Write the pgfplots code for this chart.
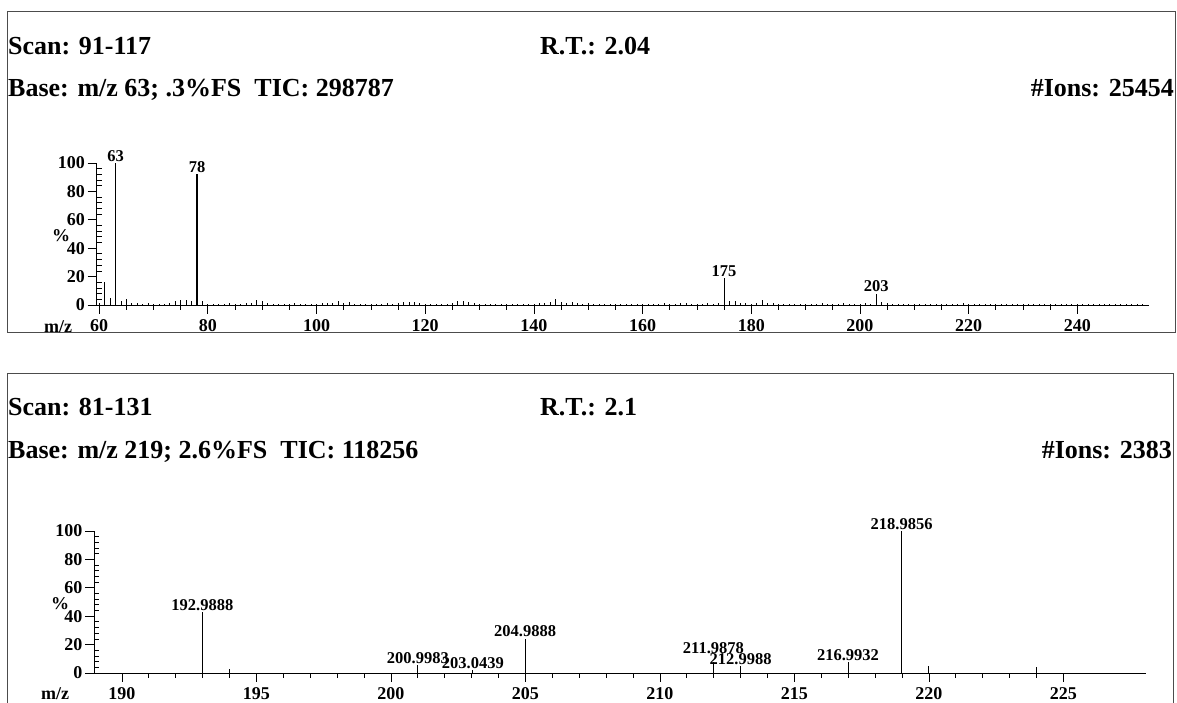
\documentclass[border=0pt]{standalone}
\usepackage{fontspec}
\setmainfont{Liberation Serif}
\usepackage{pgfplots}
\pgfplotsset{compat=1.18}
\begin{document}
\begin{tikzpicture}[x=1pt,y=1pt]
\useasboundingbox (0,0) rectangle (1177,703);
\pgfplotsset{ms/.style={
  scale only axis, clip=false,
  axis x line=bottom, axis y line=left,
  axis line style={-, line width=0.9pt},
  ymin=0, ymax=100, ytick={0,20,...,100}, minor y tick num=4,
  tick align=outside,
  major tick length=9pt, minor tick length=5pt,
  every tick/.style={black, line width=0.8pt},
  minor y tick style={xshift=5pt},
  ticklabel style={font=\fontsize{18}{18}\selectfont\bfseries},
  /pgf/number format/assume math mode=true,
  xticklabel style={yshift=-2pt},
  yticklabel style={xshift=1pt},
}}
\tikzset{pk/.style={anchor=south, inner sep=1.5pt, font=\fontsize{16.5}{16.5}\selectfont\bfseries},
         tt/.style={anchor=base west, inner sep=0pt, font=\fontsize{26}{26}\selectfont\bfseries}}
% frames
\draw[gray!60!black, line width=1pt] (7pt,370pt) rectangle (1175pt,691pt);
\draw[gray!60!black, line width=1pt] (7pt,0pt) -- (7pt,329pt) -- (1173pt,329pt) -- (1173pt,0pt);
% titles top
\node[tt] at (8pt,648pt) {Scan: 91-117};
\node[tt] at (540pt,648pt) {R.T.: 2.04};
\node[tt] at (8pt,606pt) {Base: m/z 63; .3\%FS\ \ TIC: 298787};
\node[tt, anchor=base east] at (1174pt,606pt) {\#Ions: 25454};
% titles bottom
\node[tt] at (8pt,287pt) {Scan: 81-131};
\node[tt] at (540pt,287pt) {R.T.: 2.1};
\node[tt] at (8pt,244pt) {Base: m/z 219; 2.6\%FS\ \ TIC: 118256};
\node[tt, anchor=base east] at (1172pt,244pt) {\#Ions: 2383};
% axis labels
\node[font=\fontsize{18}{18}\selectfont\bfseries] at (61pt,467pt) {\%};
\node[font=\fontsize{18}{18}\selectfont\bfseries] at (58pt,376pt) {m/z};
\node[font=\fontsize{18}{18}\selectfont\bfseries] at (60pt,99pt) {\%};
\node[font=\fontsize{18}{18}\selectfont\bfseries] at (55pt,9pt) {m/z};

\begin{axis}[ms, at={(96.5pt,398pt)}, anchor=south west, width=1052.5pt, height=142pt,
  xmin=59.5, xmax=253.2, xtick={60,80,...,240}, minor x tick num=3]
\addplot[ycomb, black, line width=0.8pt, mark=none] coordinates {
(60,1.2)(61,16)(62,5)(64,3)(65,4)(66,1.2)(67,1.5)(68,1)(69,1.2)(70,1)(71,0.8)(72,1)(73,1.2)(74,3)(75,3.5)(76,3.5)(77,3)(79,2.5)
(80,1)(81,0.8)(82,1)(83,1)(84,1.2)(85,0.8)(86,1)(87,1.2)(88,1.5)(89,3.5)(90,3)(91,1.2)(92,1)(93,1)(94,0.8)(95,1)(96,1.2)(97,0.8)(98,1)(99,1)
(100,0.8)(101,1.2)(102,1.5)(103,1.2)(104,2.5)(105,1.2)(106,2)(107,1)(108,0.8)(109,1)(110,1)(111,0.8)(112,1)(113,1.2)(114,1)(115,1.5)(116,1.8)(117,2)(118,2)(119,1.5)
(120,1)(121,1)(122,0.8)(123,1)(124,1)(125,1.5)(126,3)(127,3)(128,2)(129,1.2)(130,1)(131,0.8)(132,0.8)(133,1)(134,0.8)(135,0.8)(136,1)(137,0.8)(138,1)(139,1)
(140,0.8)(141,1.2)(142,1.5)(143,1.8)(144,4.5)(145,2)(146,1.5)(147,2)(148,1.2)(149,1)(150,1.5)(151,1)(152,1)(153,0.8)(154,1)(155,0.8)(156,1)(157,0.8)(158,1)(159,0.8)
(160,1)(161,0.8)(162,1)(163,1)(164,1.2)(165,0.8)(166,1)(167,1.2)(168,1.5)(169,1)(170,0.8)(171,1)(172,1.2)(173,1)(174,1.2)(176,2.5)(177,2.5)(178,1.5)(179,1.2)
(180,1)(181,1.5)(182,3.5)(183,1.5)(184,1.2)(185,1)(186,0.8)(187,1)(188,0.8)(189,1)(190,1)(191,0.8)(192,1)(193,1.2)(194,1)(195,0.8)(196,1)(197,1.2)(198,1)(199,1)
(200,1)(201,1.2)(202,1)(204,1.8)(205,1.2)(206,0.8)(207,1)(208,0.8)(209,1)(210,0.8)(211,1)(212,0.8)(213,0.8)(214,1)(215,0.8)(216,1)(217,1)(218,0.8)(219,1.2)
(220,1)(221,0.8)(222,1)(223,0.8)(224,1)(225,1)(226,0.8)(227,1)(228,0.8)(229,1)(230,0.8)(231,1)(232,0.8)(233,1)(234,0.8)(235,0.8)(236,1)(237,0.8)(238,1)(239,0.8)
(240,1)(241,0.8)(242,1)(243,0.8)(244,0.8)(245,1)(246,0.8)(247,0.8)(248,1)(249,0.8)(250,1)(251,0.8)(252,1)
};
\addplot[ycomb, black, line width=1.1pt, mark=none] coordinates {
(63,100)(78,92)(175,19)(203,8)
};
\node[pk] at (axis cs:63,100) {63};
\node[pk] at (axis cs:78,92) {78};
\node[pk] at (axis cs:175,19) {175};
\node[pk] at (axis cs:203,8) {203};
\end{axis}

\begin{axis}[ms, at={(94pt,30pt)}, anchor=south west, width=1052pt, height=142pt,
  xmin=188.96, xmax=228.07, xtick={190,195,...,225}, minor x tick num=4]
\addplot[ycomb, black, line width=1.1pt, mark=none] coordinates {
(192.9888,43)(194,3)(200.9983,5.5)(203.0439,2)(204.9888,24)(211.9878,7.5)(212.9988,5)(216.9932,7.5)(218.9856,100)(220,5)(224,4)
};
\node[pk] at (axis cs:192.9888,43) {192.9888};
\node[pk] at (axis cs:200.9983,5.5) {200.9983};
\node[pk] at (axis cs:203.0439,2) {203.0439};
\node[pk] at (axis cs:204.9888,24) {204.9888};
\node[pk] at (axis cs:211.9878,12.5) {211.9878};
\node[pk] at (axis cs:212.9988,4.5) {212.9988};
\node[pk] at (axis cs:216.9932,7.5) {216.9932};
\node[pk] at (axis cs:218.9856,100) {218.9856};
\end{axis}
\end{tikzpicture}
\end{document}
